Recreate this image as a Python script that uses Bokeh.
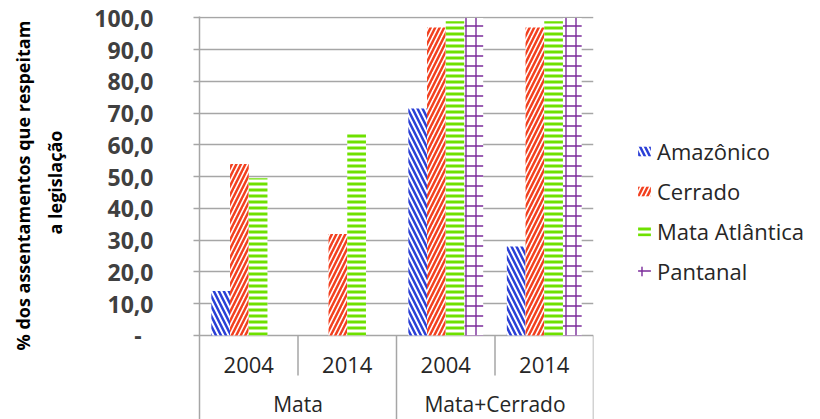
from bokeh.plotting import figure
from bokeh.layouts import row
from bokeh.models import (ColumnDataSource, FactorRange, Range1d, FixedTicker,
                          Legend, LegendItem, Title)
from bokeh.transform import dodge
from bokeh.core.properties import value
from bokeh.embed import file_html
from bokeh.resources import INLINE

# Share of settlements that comply with the legislation, by biome
groups = ["Mata", "Mata", "Mata+Cerrado", "Mata+Cerrado"]
years = ["2004", "2014", "2004", "2014"]
amazonico = [14.0, 0.0, 71.5, 28.0]
cerrado = [54.0, 32.0, 97.0, 97.0]
mata_atlantica = [49.5, 64.0, 99.0, 99.0]
pantanal = [0.0, 0.0, 100.0, 100.0]

series_names = ["Amazônico", "Cerrado", "Mata Atlântica", "Pantanal"]
y_ticks = [0, 10, 20, 30, 40, 50, 60, 70, 80, 90, 100]
y_tick_labels = ["-\u00a0\u00a0", "10,0", "20,0", "30,0", "40,0", "50,0",
                 "60,0", "70,0", "80,0", "90,0", "100,0"]
group_names = ["Mata", "Mata+Cerrado"]
y_title = ["% dos assentamentos que respeitam", "a legislação"]

FONT = "Open Sans"
TEXT = "#262626"
GRID = "#a6a6a6"
factors = list(zip(groups, years))

src = ColumnDataSource(dict(
    x=factors, year=years,
    amazonico=amazonico, cerrado=cerrado,
    mata_atlantica=mata_atlantica, pantanal=pantanal,
))

p = figure(
    x_range=FactorRange(*factors, group_padding=0, factor_padding=0,
                        subgroup_padding=0, range_padding=0),
    y_range=Range1d(-26.46, 100.47),
    width=600, height=419,
    output_backend="svg", toolbar_location=None,
    x_axis_location=None,
    min_border_left=199, min_border_right=7,
    min_border_top=16, min_border_bottom=0,
)
p.outline_line_color = None

# y axis and horizontal grid
ticker = FixedTicker(ticks=y_ticks)
p.yaxis.ticker = ticker
p.yaxis.major_label_overrides = dict(zip(y_ticks, y_tick_labels))
p.yaxis.axis_line_color = GRID
p.yaxis.axis_line_width = 1.5
p.yaxis.major_tick_line_color = GRID
p.yaxis.major_tick_line_width = 1.5
p.yaxis.major_tick_out = 6
p.yaxis.major_tick_in = 0
p.yaxis.minor_tick_line_color = None
p.yaxis.major_label_standoff = 40
p.yaxis.major_label_text_font = FONT
p.yaxis.major_label_text_font_size = "23px"
p.yaxis.major_label_text_font_style = "bold"
p.yaxis.major_label_text_color = "#404040"
# blank axis label keeps a gap between the tick labels and the title lines
p.yaxis.axis_label = "\u00a0"
p.yaxis.axis_label_text_font_size = "1px"
p.yaxis.axis_label_standoff = 15

p.ygrid.ticker = ticker
p.ygrid.grid_line_color = GRID
p.ygrid.grid_line_width = 1.5
p.xgrid.visible = False

# y axis title, two stacked lines, read bottom to top
p.add_layout(Title(text=y_title[1], align="left", offset=185, standoff=12,
                   text_font=FONT, text_font_size="18px",
                   text_font_style="bold", text_color="black"), "left")
p.add_layout(Title(text=y_title[0], align="left", offset=69, standoff=0,
                   text_font=FONT, text_font_size="18px",
                   text_font_style="bold", text_color="black"), "left")

# bars: one hatched series per biome
bar_w = 0.19
styles = [
    ("amazonico", -0.285, "\\", "#2b3fd6", 2.5, 10),
    ("cerrado", -0.095, "/", "#f2401f", 2.5, 9),
    ("mata_atlantica", 0.095, "-", "#6ee000", 3.0, 6),
    ("pantanal", 0.285, "+", "#7a2a9a", 1.4, 10),
]
renderers = []
for col, off, pat, color, weight, scale in styles:
    r = p.vbar(x=dodge("x", off, range=p.x_range), top=col, width=bar_w,
               source=src, fill_color="white", line_color=None,
               hatch_pattern=pat, hatch_color=color,
               hatch_weight=weight, hatch_scale=scale)
    renderers.append(r)

# category table below the bars
p.text(x="x", y=-9.45, text="year", source=src,
       text_align="center", text_baseline="middle",
       text_font=value(FONT), text_font_size="22px", text_color=TEXT)
gsrc = ColumnDataSource(dict(x=group_names, label=group_names))
p.text(x="x", y=-21.73, text="label", source=gsrc,
       text_align="center", text_baseline="middle",
       text_font=value(FONT), text_font_size="21px", text_color=TEXT)

year_sep = ColumnDataSource(dict(x=[factors[1], factors[3]]))
p.segment(x0=dodge("x", -0.5, range=p.x_range), x1=dodge("x", -0.5, range=p.x_range),
          y0=0, y1=-12.6, source=year_sep, line_color=GRID, line_width=1.5)
p.segment(x0=dodge("x", -0.5, range=p.x_range), x1=dodge("x", -0.5, range=p.x_range),
          y0=0, y1=-26.46, source=ColumnDataSource(dict(x=[factors[2]])),
          line_color=GRID, line_width=1.5)
p.segment(x0=dodge("x", 0.5, range=p.x_range), x1=dodge("x", 0.5, range=p.x_range),
          y0=0, y1=-26.46, source=ColumnDataSource(dict(x=[factors[3]])),
          line_color=GRID, line_width=1.5)

# legend panel to the right of the chart; its swatch bars sit outside the view
lg = figure(width=220, height=419, x_range=Range1d(0, 1), y_range=Range1d(0, 1),
            output_backend="svg", toolbar_location=None,
            x_axis_location=None, y_axis_location=None,
            min_border_left=0, min_border_right=0, min_border_top=0, min_border_bottom=0)
lg.outline_line_color = None
lg.grid.visible = False
swatch_src = ColumnDataSource(dict(x=[-5.0], top=[-5.0]))
swatches = []
for col, off, pat, color, weight, scale in styles:
    swatches.append(lg.vbar(x="x", top="top", bottom=-6.0, width=0.1, source=swatch_src,
                            fill_color="white", line_color=None,
                            hatch_pattern=pat, hatch_color=color,
                            hatch_weight=weight, hatch_scale=scale))
legend = Legend(
    items=[LegendItem(label=n, renderers=[r]) for n, r in zip(series_names, swatches)],
    location=(36, 133),
    label_text_font=FONT, label_text_font_size="22px", label_text_color=TEXT,
    glyph_width=16, glyph_height=12, label_standoff=5, spacing=10,
    padding=0, margin=0, border_line_color=None, background_fill_alpha=0,
)
lg.add_layout(legend, "center")

layout = row(p, lg, spacing=0)
open("out.html", "w").write(file_html(layout, INLINE))
